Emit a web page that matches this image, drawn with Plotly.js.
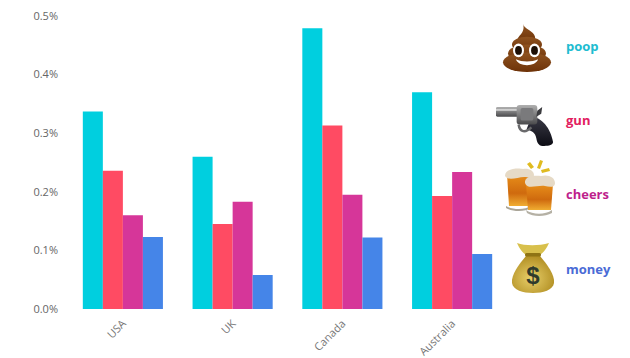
<!DOCTYPE html>
<html><head><meta charset="utf-8">
<script src="https://cdn.plot.ly/plotly-3.0.1.min.js"></script>
<style>html,body{margin:0;padding:0;background:#fff}</style></head>
<body><div id="chart" style="width:630px;height:358px"></div>
<script>
const countries = ["USA","UK","Canada","Australia"];
const poop = [0.337,0.260,0.479,0.370];
const gun = [0.236,0.145,0.313,0.193];
const cheers = [0.160,0.183,0.195,0.234];
const money = [0.123,0.058,0.122,0.094];
const seriesNames = ["poop","gun","cheers","money"];
const barColors = ["#00CFDF","#FF4B63","#D63699","#4585E8"];
const labelColors = ["#20BCD0","#E2205F","#BE1F8C","#4A6BD6"];
const W=630,H=358,L=68,R=123,T=16,B=49;
const px=x=>(x-L)/(W-L-R), py=y=>1-(y-T)/(H-T-B);
const svg=(w,h,body)=>"data:image/svg+xml;charset=utf-8,"+encodeURIComponent(`<svg xmlns="http://www.w3.org/2000/svg" width="${w*4}" height="${h*4}" viewBox="0 0 ${w} ${h}">${body}</svg>`);

const poopIcon=svg(50,50,`<defs><linearGradient id="b" x1="0" y1="0" x2="0" y2="1"><stop offset="0" stop-color="#8f5320"/><stop offset="1" stop-color="#6d3208"/></linearGradient></defs>
<g fill="url(#b)"><path d="M21 0C22 5 32 7 33 13C34 17 30 19 25 19L15 19C14 12 24 10 21 0Z"/><ellipse cx="25" cy="21" rx="15" ry="8"/><ellipse cx="25" cy="30" rx="19" ry="9"/><ellipse cx="25" cy="39" rx="24" ry="10"/></g>
<ellipse cx="16.5" cy="27" rx="5.500" ry="7" fill="#fff"/><ellipse cx="32.500" cy="27" rx="5.500" ry="7" fill="#fff"/><ellipse cx="16.5" cy="27" rx="3.400" ry="4.500" fill="#1d0f05"/><ellipse cx="32.500" cy="27" rx="3.400" ry="4.500" fill="#1d0f05"/>
<path d="M14 36C20 39 30 39 36 36C34 44 16 44 14 36Z" fill="#fff"/>`);

const gunIcon=svg(60,44,`<defs><linearGradient id="g" x1="0" y1="0" x2="0" y2="1"><stop offset="0" stop-color="#b0b0b0"/><stop offset="1" stop-color="#4a4a4c"/></linearGradient><linearGradient id="h" x1="0" y1="0" x2="0" y2="1"><stop offset="0" stop-color="#3a3a46"/><stop offset="1" stop-color="#0c0c14"/></linearGradient></defs>
<path d="M36 14C46 14 56 26 58 40C58 43 54 44 49 44C44 44 42 42 41 36C40 30 36 28 31 27Z" fill="url(#h)"/>
<rect x="0" y="4" width="24" height="10" rx="1.500" fill="url(#g)"/><rect x="0" y="6" width="24" height="2" fill="#d0d0d0"/>
<rect x="21" y="2" width="21" height="20" rx="3" fill="url(#g)"/><rect x="25" y="5" width="13" height="13" rx="2" fill="#7a7a7c"/>
<path d="M42 8L47 4L46 11L41 14Z" fill="#3b3b3f"/><path d="M23 22C24 30 30 31 36 25" fill="none" stroke="#6a6a6c" stroke-width="2.500"/>`);

const beerIcon=svg(50,56,`<defs><linearGradient id="m" x1="0" y1="0" x2="0" y2="1"><stop offset="0" stop-color="#e88f1a"/><stop offset=".6" stop-color="#cf6a0e"/><stop offset="1" stop-color="#f0ad32"/></linearGradient></defs>
<g fill="#e0bb20"><path d="M25 2L29 7L26 9L22 4Z"/><path d="M35 0L38 1L35 9L32 8Z"/><path d="M44 8L45 11L37 13L36 10Z"/></g>
<path d="M2 14L26 14L26 46L4 46Z" fill="url(#m)"/><path d="M1 46C8 50 20 50 26 46L26 48C20 52 8 52 1 48Z" fill="#aaa598"/>
<path d="M0 16C0 8 14 8 18 9C24 8 29 11 29 15C29 19 24 18 21 17C14 16 4 22 0 16Z" fill="#e6dac6"/>
<path d="M21 24L48 24L46 50L23 50Z" fill="url(#m)"/><path d="M21 50C28 55 40 55 47 50L47 53C40 57 28 57 22 53Z" fill="#b5b1a5"/>
<path d="M20 23C19 16 30 15 36 16C43 14 50 17 50 23C50 28 44 27 40 26C32 25 22 30 20 23Z" fill="#e6dac6"/>`);

const bagIcon=svg(44,50,`<defs><radialGradient id="y" cx=".45" cy=".6" r=".7"><stop offset="0" stop-color="#e8cf6a"/><stop offset="1" stop-color="#a98518"/></radialGradient></defs>
<path d="M6 0C14 3 28 3 38 0C36 5 32 10 29 12L15 12C12 10 8 5 6 0Z" fill="#d8c04c"/>
<path d="M15 13L29 13C36 21 44 32 43 40C42 47 32 50 22 50C12 50 2 47 1 40C0 32 8 21 15 13Z" fill="url(#y)"/>
<rect x="14" y="10" width="16" height="3.500" rx="1.500" fill="#8f7414"/>
<text x="22" y="41" text-anchor="middle" font-family="Liberation Sans" font-weight="700" font-size="24" fill="#2f3a2c">$</text>`);

const icons=[[poopIcon,502,24,50,49],[gunIcon,496,103,59,43],[beerIcon,505,160,50,56],[bagIcon,511,243,44,50]];
const labelY=[46,120,194,269], labelX=564.5;
const vals=[poop,gun,cheers,money];
const traces=seriesNames.map((n,i)=>({type:"bar",name:n,x:countries,y:vals[i],marker:{color:barColors[i],line:{width:0}}}));
const layout={width:W,height:H,margin:{l:L,r:R,t:T,b:B,pad:0},paper_bgcolor:"#fff",plot_bgcolor:"#fff",showlegend:false,
 barmode:"group",bargap:0.27,bargroupgap:0,
 font:{family:"Open Sans, sans-serif",color:"#6a6a6a",size:11},
 xaxis:{tickangle:-45,ticks:"",showgrid:false,zeroline:false,showline:false,ticklabelstandoff:5,tickfont:{size:11,color:"#777"}},
 yaxis:{range:[0,0.5],dtick:0.1,tickformat:".1f",ticksuffix:"%",ticks:"",showgrid:false,zeroline:false,showline:false,ticklabelstandoff:9,tickfont:{size:11,color:"#666"}},
 images:icons.map(a=>({source:a[0],xref:"paper",yref:"paper",x:px(a[1]),y:py(a[2]),sizex:a[3]/(W-L-R),sizey:a[4]/(H-T-B),sizing:"stretch",xanchor:"left",yanchor:"top",layer:"above"})),
 annotations:seriesNames.map((n,i)=>({text:"<b>"+n+"</b>",xref:"paper",yref:"paper",x:px(labelX),y:py(labelY[i]),xanchor:"left",yanchor:"middle",showarrow:false,borderpad:0,font:{family:"Open Sans, sans-serif",size:13,color:labelColors[i]}}))
};
Plotly.newPlot("chart",traces,layout,{displayModeBar:false,staticPlot:true});
</script></body></html>
